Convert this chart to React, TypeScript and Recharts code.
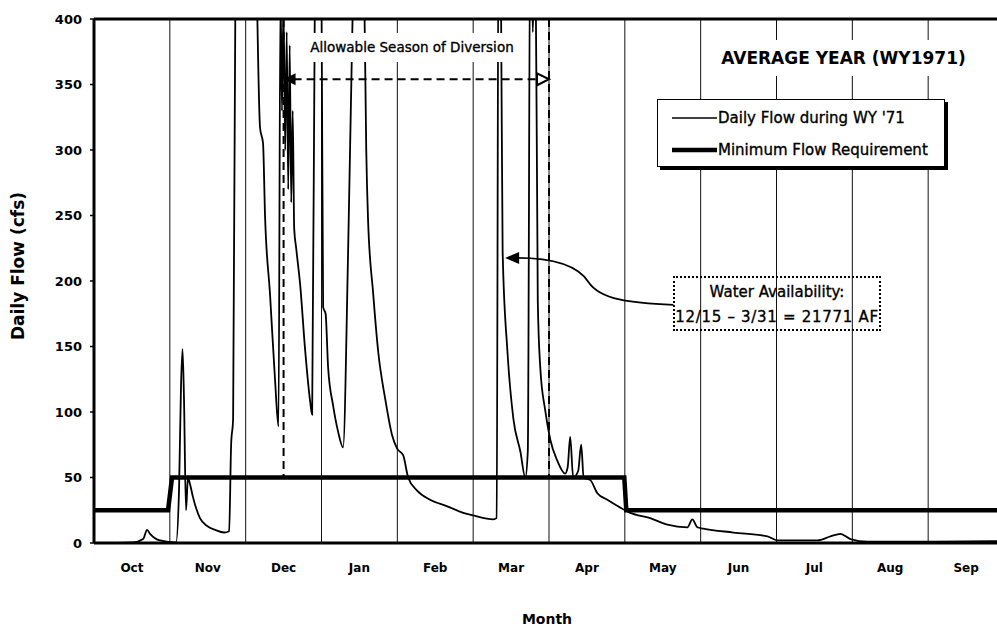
import { LineChart, Line, XAxis, YAxis, ReferenceLine, Legend } from "recharts";

const months = ["Oct", "Nov", "Dec", "Jan", "Feb", "Mar", "Apr", "May", "Jun", "Jul", "Aug", "Sep"];

// day of water year (Oct 1 = 0) and daily flow in cfs
const flowDays = [
    0, 15.7, 19.7, 21.3, 22.5, 26.5, 32.9, 34.1, 34.9, 35.5, 36.1, 36.9, 37.7, 38.5, 39.7, 42.5,
    45.4, 48.6, 52.2, 54.2, 55.0, 55.8, 57.0, 61.0, 65.0, 66.6, 67.8, 68.6, 70.6, 72.6, 74.0,
    74.8, 75.4, 76.0, 76.7, 77.3, 77.9, 78.5, 79.1, 79.7, 80.3, 81.1, 82.7, 84.7, 86.7, 87.5,
    88.7, 89.9, 91.3, 91.9, 92.9, 93.9, 95.9, 97.9, 99.9, 101.9, 103.5, 104.7, 106.8, 108.4,
    109.2, 109.9, 112.0, 114.0, 116.8, 119.6, 121.6, 124.0, 126.0, 129.6, 134.8, 141.7, 148.1,
    152.1, 160.1, 161.5, 162.3, 163.3, 163.9, 165.8, 168.2, 171.0, 173.0, 174.0, 175.0, 176.0,
    177.0, 178.0, 179.0, 181.0, 183.0, 185.8, 189.0, 190.0, 191.0, 192.2, 194.2, 195.4, 196.4,
    199.1, 201.9, 205.9, 211.1, 215.1, 223.1, 230.0, 238.0, 240.0, 242.0, 244.4, 256.5, 270.1,
    274.1, 290.2, 295.4, 299.4, 303.4, 310.2, 336.7, 364.8,
];
const flowCfs = [
    0, 0.5, 3, 10, 7, 2, 0.5, 40, 120, 148, 110, 25, 50, 45, 35, 19,
    13, 10, 8, 9, 75, 95, 520, 700, 450, 317, 305, 250, 190, 125, 89,
    420, 330, 410, 300, 390, 270, 380, 260, 330, 240, 225, 197, 147, 108, 98,
    450, 520, 400, 180, 175, 134, 105, 85, 73, 220, 380, 480, 500, 420,
    300, 248, 190, 146, 110, 82, 72, 67, 50, 40, 33, 28, 23,
    21, 18, 19, 500, 400, 223, 147, 95, 70, 50, 70, 480, 390,
    470, 185, 134, 101, 79, 63, 53, 58, 81, 50, 55, 75, 50,
    48, 38, 33, 27, 23, 19, 14, 12, 18, 12, 11, 8, 5,
    2, 2, 5, 7, 3, 1, 1, 1.5,
];

const minFlowDays = [0, 29.7, 31.3, 212.7, 213.5, 365];
const minFlowCfs = [25, 25, 50, 50, 25, 25];

const yTicks = [0, 50, 100, 150, 200, 250, 300, 350, 400];

const MONTH = 365 / 12;
const flowData = flowDays.map((day, i) => ({ day, flow: flowCfs[i] }));
const minFlowData = minFlowDays.map((day, i) => ({ day, req: minFlowCfs[i] }));
const labelTicks = months.map((_, i) => (i + 0.5) * MONTH);
const monthLines = months.slice(1).map((_, i) => (i + 1) * MONTH);

const DIV_START = 2.5 * MONTH; // 12/15
const DIV_END = 6 * MONTH; // 3/31
const DIV_LEVEL = 354;

const FONT = "'DejaVu Sans', sans-serif";
const HEAVY = { WebkitTextStroke: "0.35px #000" } as any;

function DashedArrow(props: any) {
    const { x1, y1, x2, y2 } = props;
    return (
        <g>
            <line x1={x1 + 10} y1={y1} x2={x2 - 10} y2={y2} stroke="#000" strokeWidth={2} strokeDasharray="8 5" />
            <path d={`M${x1},${y1} L${x1 + 12},${y1 - 6} L${x1 + 12},${y1 + 6} Z`} fill="#000" />
            <path d={`M${x2},${y2} L${x2 - 12},${y2 - 6} L${x2 - 12},${y2 + 6} Z`} fill="#fff" stroke="#000" strokeWidth={2} />
        </g>
    );
}

function CurvedArrow(props: any) {
    // x1,y1 is the tip, x2,y2 the tail at the text box
    const { x1, y1, x2, y2 } = props;
    const d =
        `M${x2},${y2} C${x2 - 43},${y2 - 2} ${x2 - 73},${y2 - 5} ${x2 - 85},${y2 - 23} ` +
        `C${x2 - 98},${y2 - 43} ${x1 + 40},${y1} ${x1 + 12},${y1}`;
    return (
        <g>
            <path d={d} fill="none" stroke="#000" strokeWidth={1.8} />
            <path d={`M${x1},${y1} L${x1 + 14},${y1 - 6} L${x1 + 14},${y1 + 6} Z`} fill="#000" />
        </g>
    );
}

function LegendBox(props: any) {
    const widths = [1.5, 4.5];
    const items = props.payload || [];
    return (
        <div
            style={{
                boxSizing: "border-box",
                width: 288,
                height: 68,
                border: "1px solid #000",
                boxShadow: "3px 3px 0 #000",
                background: "#fff",
                position: "relative",
                fontFamily: FONT,
                fontSize: 15,
                color: "#000",
                ...HEAVY,
            }}
        >
            {items.map((entry: any, i: number) => (
                <div
                    key={entry.value}
                    style={{
                        position: "absolute",
                        left: 14,
                        top: i === 0 ? 8 : 40,
                        height: 20,
                        display: "flex",
                        alignItems: "center",
                        whiteSpace: "nowrap",
                    }}
                >
                    <svg width={45} height={20}>
                        <line x1={0} y1={10} x2={45} y2={10} stroke="#000" strokeWidth={widths[i]} />
                    </svg>
                    <span style={{ marginLeft: 1 }}>{entry.value}</span>
                </div>
            ))}
        </div>
    );
}

export default function App() {
    return (
        <div
            style={{
                position: "absolute",
                left: 0,
                top: 0,
                width: 997,
                height: 629,
                overflow: "hidden",
                background: "#fff",
                fontFamily: FONT,
            }}
        >
            <LineChart width={1004} height={629} margin={{ top: 19, right: 0, bottom: 56, left: 0 }}>
                <XAxis
                    type="number"
                    dataKey="day"
                    domain={[0, 365]}
                    ticks={labelTicks}
                    interval={0}
                    tickFormatter={(_v: number, i: number) => months[i]}
                    axisLine={{ stroke: "#000", strokeWidth: 3 }}
                    tickLine={false}
                    tickMargin={14}
                    height={30}
                    tick={{ fontSize: 12, fontWeight: "bold", fill: "#000", fontFamily: FONT }}
                />
                <YAxis
                    type="number"
                    domain={[0, 400]}
                    ticks={yTicks}
                    allowDataOverflow
                    width={94}
                    axisLine={{ stroke: "#000", strokeWidth: 3 }}
                    tickLine={{ stroke: "#000", strokeWidth: 1.5 }}
                    tickSize={4}
                    tickMargin={8}
                    tick={{ fontSize: 13, fontWeight: "bold", fill: "#000", fontFamily: FONT }}
                />
                {monthLines.map((x) => (
                    <ReferenceLine key={x} x={x} stroke="#111" strokeWidth={1} />
                ))}
                <ReferenceLine y={400} stroke="#000" strokeWidth={3} />
                <ReferenceLine
                    segment={[{ x: DIV_START, y: 400 }, { x: DIV_START, y: 50 }]}
                    stroke="#000"
                    strokeWidth={2}
                    strokeDasharray="8 5"
                />
                <ReferenceLine
                    segment={[{ x: DIV_END, y: 400 }, { x: DIV_END, y: 50 }]}
                    stroke="#000"
                    strokeWidth={2}
                    strokeDasharray="8 5"
                />
                <Line
                    data={flowData}
                    dataKey="flow"
                    name="Daily Flow during WY '71"
                    type="monotoneX"
                    stroke="#000"
                    strokeWidth={1.8}
                    dot={false}
                    isAnimationActive={false}
                />
                <Line
                    data={minFlowData}
                    dataKey="req"
                    name="Minimum Flow Requirement"
                    type="linear"
                    stroke="#000"
                    strokeWidth={4.5}
                    dot={false}
                    isAnimationActive={false}
                />
                <ReferenceLine
                    segment={[{ x: DIV_START, y: DIV_LEVEL }, { x: DIV_END, y: DIV_LEVEL }]}
                    shape={(p: any) => <DashedArrow {...p} />}
                />
                <ReferenceLine
                    segment={[{ x: 164.9, y: 217.6 }, { x: 232.4, y: 181.7 }]}
                    shape={(p: any) => <CurvedArrow {...p} />}
                />
                <Legend
                    verticalAlign="middle"
                    align="center"
                    layout="horizontal"
                    wrapperStyle={{ left: 657, top: 99, width: 288, height: 68 }}
                    content={(p: any) => <LegendBox {...p} />}
                />
            </LineChart>

            <div
                style={{
                    position: "absolute",
                    left: 712,
                    top: 40,
                    width: 263,
                    height: 36,
                    background: "#fff",
                    textAlign: "center",
                    lineHeight: "36px",
                    fontSize: 17,
                    fontWeight: "bold",
                    whiteSpace: "nowrap",
                }}
            >
                AVERAGE YEAR (WY1971)
            </div>

            <div
                style={{
                    position: "absolute",
                    left: 297,
                    top: 33,
                    width: 230,
                    height: 29,
                    background: "#fff",
                    textAlign: "center",
                    lineHeight: "29px",
                    fontSize: 13.5,
                    whiteSpace: "nowrap",
                    ...HEAVY,
                }}
            >
                Allowable Season of Diversion
            </div>

            <div
                style={{
                    position: "absolute",
                    left: 673,
                    top: 276,
                    width: 208,
                    height: 55,
                    boxSizing: "border-box",
                    border: "2px dotted #000",
                    paddingTop: 2,
                    textAlign: "center",
                    fontSize: 15,
                    lineHeight: "25px",
                    whiteSpace: "nowrap",
                    ...HEAVY,
                }}
            >
                <div>Water Availability:</div>
                <div style={{ letterSpacing: 0.7 }}>12/15 – 3/31 = 21771 AF</div>
            </div>

            <div
                style={{
                    position: "absolute",
                    left: -82,
                    top: 256,
                    width: 200,
                    height: 20,
                    lineHeight: "20px",
                    textAlign: "center",
                    transform: "rotate(-90deg)",
                    fontSize: 17,
                    fontWeight: "bold",
                    whiteSpace: "nowrap",
                }}
            >
                Daily Flow (cfs)
            </div>

            <div
                style={{
                    position: "absolute",
                    left: 447,
                    top: 609,
                    width: 200,
                    height: 20,
                    lineHeight: "20px",
                    textAlign: "center",
                    fontSize: 14,
                    fontWeight: "bold",
                }}
            >
                Month
            </div>
        </div>
    );
}
